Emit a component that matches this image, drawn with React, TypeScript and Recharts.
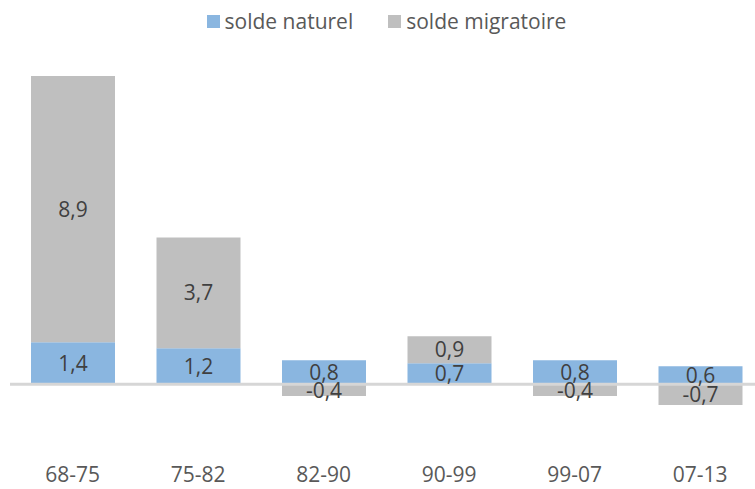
import React from "react";
import { BarChart, Bar, XAxis, YAxis, Legend, ReferenceLine, LabelList } from "recharts";

const categories = ["68-75", "75-82", "82-90", "90-99", "99-07", "07-13"];
const soldeNaturel = [1.4, 1.2, 0.8, 0.7, 0.8, 0.6];
const soldeMigratoire = [8.9, 3.7, -0.4, 0.9, -0.4, -0.7];
const seriesNames = ["solde naturel", "solde migratoire"];
const colors = ["#8ab6e0", "#bfbfbf"];

const data = categories.map((c, i) => ({
  cat: c,
  naturel: soldeNaturel[i],
  migratoire: soldeMigratoire[i],
}));

const FONT = "'Open Sans', sans-serif";
const fmt = (v: any) => String(v).replace(".", ",");

const LegendContent = () => (
  <div style={{ height: 47, display: "flex", justifyContent: "center", alignItems: "flex-start", fontFamily: FONT, fontSize: 21, color: "#595959" }}>
    {seriesNames.map((n, i) => (
      <div key={n} style={{ display: "flex", alignItems: "center", marginRight: i === 0 ? 35 : 0 }}>
        <div style={{ width: 13, height: 13, background: colors[i], marginRight: 5 }} />
        <span style={{ lineHeight: "26px" }}>{n}</span>
      </div>
    ))}
  </div>
);

export default function App() {
  return (
    <div style={{ position: "absolute", left: 0, top: 0, width: 755, height: 489, overflow: "hidden", background: "#fff" }}>
      <BarChart
        width={775}
        height={489}
        data={data}
        stackOffset="sign"
        margin={{ top: 8, right: 12, bottom: 15, left: 10 }}
        barSize={84}
      >
        <Legend verticalAlign="top" content={<LegendContent />} />
        <XAxis
          dataKey="cat"
          axisLine={false}
          tickLine={false}
          tickMargin={17}
          height={30}
          tick={{ fill: "#595959", fontSize: 21, fontFamily: FONT }}
        />
        <YAxis hide domain={[-2, 11]} />
        <Bar dataKey="naturel" stackId="a" fill={colors[0]} isAnimationActive={false}>
          <LabelList dataKey="naturel" position="center" formatter={fmt} fill="#404040" fontSize={21} fontFamily={FONT} />
        </Bar>
        <Bar dataKey="migratoire" stackId="a" fill={colors[1]} isAnimationActive={false}>
          <LabelList dataKey="migratoire" position="center" formatter={fmt} fill="#404040" fontSize={21} fontFamily={FONT} />
        </Bar>
        <ReferenceLine y={0} stroke="#d6d6d6" strokeWidth={3} />
      </BarChart>
    </div>
  );
}
